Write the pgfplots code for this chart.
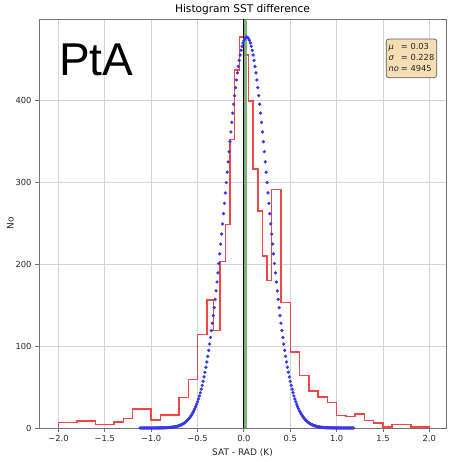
\documentclass[border=0pt]{standalone}
\usepackage{pgfplots}
\pgfplotsset{compat=1.18}
\usepackage{fontspec}
\setmainfont{DejaVu Sans}
\newfontfamily\arialfont{Liberation Sans}
\definecolor{histred}{RGB}{242,70,70}
\definecolor{dotblue}{RGB}{55,55,232}
\definecolor{meangreen}{RGB}{105,165,105}
\definecolor{wheatbox}{RGB}{245,222,179}

\begin{document}
\begin{tikzpicture}
\path[use as bounding box] (-39pt,-34pt) rectangle (414pt,428pt);
\begin{axis}[
  scale only axis, width=407pt, height=409pt,
  at={(0,0)}, anchor=south west,
  xmin=-2.21, xmax=2.18, ymin=0, ymax=499,
  xtick={-2,-1.5,-1,-0.5,0,0.5,1,1.5,2},
  xticklabels={−2.0,−1.5,−1.0,−0.5,0.0,0.5,1.0,1.5,2.0},
  ytick={0,100,200,300,400},
  yticklabels={0,100,200,300,400},
  grid=major, grid style={black!17, line width=0.7pt},
  axis line style={black!55, line width=0.8pt},
  tick style={black!55, line width=0.8pt},
  tick align=outside, major tick length=4pt,
  xtick pos=bottom, ytick pos=left,
  tick label style={font=\fontsize{8.3}{10}\selectfont, text=black!85},
  xlabel={SAT - RAD (K)}, ylabel={No},
  label style={font=\fontsize{9}{11}\selectfont, text=black!85},
  xlabel style={at={(axis description cs:0.5,0)}, anchor=center, yshift=-25pt},
  ylabel style={at={(axis description cs:0,0.5)}, anchor=center, yshift=28.5pt},
  title={Histogram SST difference},
  title style={font=\fontsize{10.6}{12}\selectfont, at={(axis description cs:0.5,1)}, anchor=center, yshift=3pt},
  clip=true,
]
% histogram (step outline)
\addplot[histred, line width=1.5pt, const plot mark left] coordinates {
(-2.0,0) (-2.0,6.5) (-1.8,8.5) (-1.6,4) (-1.4,7.5) (-1.3,11.5) (-1.2,23)
(-1.0,10) (-0.9,16) (-0.7,37) (-0.6,59) (-0.5,114) (-0.4,156) (-0.33,119)
(-0.26,203) (-0.2,248) (-0.15,352) (-0.1,437) (-0.05,477) (0.0,455)
(0.05,399) (0.1,316) (0.15,265) (0.2,210) (0.25,180) (0.3,291) (0.4,153)
(0.5,93) (0.6,64) (0.7,45) (0.8,38) (0.9,31) (1.0,15) (1.1,14) (1.2,17)
(1.3,9) (1.4,6) (1.5,1.5) (1.6,4.5) (1.8,1) (2.0,1) (2.0,0)
};
% mean line and zero line
\addplot[meangreen, line width=3.4pt, opacity=0.85] coordinates {(0.02,0) (0.02,499)};
\addplot[black, line width=0.8pt] coordinates {(0,0) (0,499)};
% fitted normal curve (dots)
\addplot[dotblue, only marks, mark=*, mark size=1.45pt, mark options={draw=none, fill=dotblue}] table {
x y
-1.12 0
-1.11 0
-1.10 0
-1.09 0
-1.08 0
-1.07 0.01
-1.06 0.01
-1.05 0.01
-1.04 0.01
-1.03 0.01
-1.02 0.01
-1.01 0.01
-1.00 0.02
-0.99 0.02
-0.98 0.03
-0.97 0.03
-0.96 0.04
-0.95 0.05
-0.94 0.06
-0.93 0.07
-0.92 0.08
-0.91 0.10
-0.90 0.12
-0.89 0.14
-0.88 0.17
-0.87 0.20
-0.86 0.23
-0.85 0.28
-0.84 0.33
-0.83 0.39
-0.82 0.46
-0.81 0.54
-0.80 0.63
-0.79 0.74
-0.78 0.87
-0.77 1.01
-0.76 1.18
-0.75 1.37
-0.74 1.59
-0.73 1.84
-0.72 2.13
-0.71 2.46
-0.70 2.83
-0.69 3.26
-0.68 3.74
-0.67 4.28
-0.66 4.89
-0.65 5.58
-0.64 6.36
-0.63 7.23
-0.62 8.20
-0.61 9.28
-0.60 10.48
-0.59 11.82
-0.58 13.31
-0.57 14.95
-0.56 16.77
-0.55 18.76
-0.54 20.96
-0.53 23.36
-0.52 26.00
-0.51 28.87
-0.50 32.00
-0.49 35.40
-0.48 39.09
-0.47 43.07
-0.46 47.38
-0.45 52.01
-0.44 56.98
-0.43 62.32
-0.42 68.02
-0.41 74.10
-0.40 80.57
-0.39 87.43
-0.38 94.69
-0.37 102.37
-0.36 110.45
-0.35 118.94
-0.34 127.84
-0.33 137.14
-0.32 146.83
-0.31 156.90
-0.30 167.35
-0.29 178.15
-0.28 189.27
-0.27 200.71
-0.26 212.43
-0.25 224.40
-0.24 236.59
-0.23 248.97
-0.22 261.48
-0.21 274.10
-0.20 286.78
-0.19 299.46
-0.18 312.11
-0.17 324.66
-0.16 337.07
-0.15 349.28
-0.14 361.24
-0.13 372.89
-0.12 384.18
-0.11 395.04
-0.10 405.44
-0.09 415.31
-0.08 424.59
-0.07 433.26
-0.06 441.25
-0.05 448.52
-0.04 455.04
-0.03 460.77
-0.02 465.67
-0.01 469.72
0.00 472.89
0.01 475.17
0.02 476.54
0.03 477.00
0.04 476.54
0.05 475.17
0.06 472.89
0.07 469.72
0.08 465.67
0.09 460.77
0.10 455.04
0.11 448.52
0.12 441.25
0.13 433.26
0.14 424.59
0.15 415.31
0.16 405.44
0.17 395.04
0.18 384.18
0.19 372.89
0.20 361.24
0.21 349.28
0.22 337.07
0.23 324.66
0.24 312.11
0.25 299.46
0.26 286.78
0.27 274.10
0.28 261.48
0.29 248.97
0.30 236.59
0.31 224.40
0.32 212.43
0.33 200.71
0.34 189.27
0.35 178.15
0.36 167.35
0.37 156.90
0.38 146.83
0.39 137.14
0.40 127.84
0.41 118.94
0.42 110.45
0.43 102.37
0.44 94.69
0.45 87.43
0.46 80.57
0.47 74.10
0.48 68.02
0.49 62.32
0.50 56.98
0.51 52.01
0.52 47.38
0.53 43.07
0.54 39.09
0.55 35.40
0.56 32.00
0.57 28.87
0.58 26.00
0.59 23.36
0.60 20.96
0.61 18.76
0.62 16.77
0.63 14.95
0.64 13.31
0.65 11.82
0.66 10.48
0.67 9.28
0.68 8.20
0.69 7.23
0.70 6.36
0.71 5.58
0.72 4.89
0.73 4.28
0.74 3.74
0.75 3.26
0.76 2.83
0.77 2.46
0.78 2.13
0.79 1.84
0.80 1.59
0.81 1.37
0.82 1.18
0.83 1.01
0.84 0.87
0.85 0.74
0.86 0.63
0.87 0.54
0.88 0.46
0.89 0.39
0.90 0.33
0.91 0.28
0.92 0.23
0.93 0.20
0.94 0.17
0.95 0.14
0.96 0.12
0.97 0.10
0.98 0.08
0.99 0.07
1.00 0.06
1.01 0.05
1.02 0.04
1.03 0.03
1.04 0.03
1.05 0.02
1.06 0.02
1.07 0.01
1.08 0.01
1.09 0.01
1.10 0.01
1.11 0.01
1.12 0.01
1.13 0.01
1.14 0
1.15 0
1.16 0
1.17 0
1.18 0
};
% statistics box
\node[anchor=north east, fill=wheatbox, draw=black!65, line width=0.7pt, rounded corners=2.5pt,
      inner sep=2.4pt, font=\fontsize{8.3}{11.3}\selectfont, text=black!85]
  at (rel axis cs:0.978,0.952)
  {\begin{tabular}{@{}l@{\hspace{2pt}}l@{}}
   {\itshape μ} & = 0.03\\
   {\itshape σ} & = 0.228\\
   {\itshape no} & = 4945
   \end{tabular}};
% panel tag
\node[anchor=base west, inner sep=0pt, font=\arialfont\fontsize{46}{50}\selectfont]
  at (rel axis cs:0.049,0.861) {PtA};
\end{axis}
\end{tikzpicture}
\end{document}
